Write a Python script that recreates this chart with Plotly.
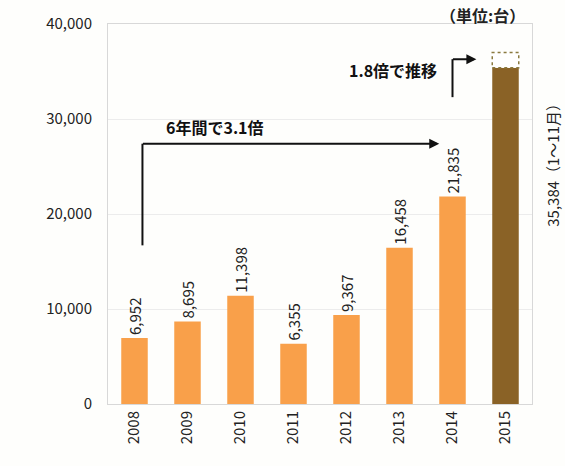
import plotly.graph_objects as go

years = ["2008", "2009", "2010", "2011", "2012", "2013", "2014", "2015"]
values = [6952, 8695, 11398, 6355, 9367, 16458, 21835, 35384]
full_year_estimate_2015 = 37000
bar_colors = ["#f9a04a"] * 7 + ["#8a6226"]
labels = [f"{v:,}" for v in values[:7]] + [""]
label_2015 = f"{values[7]:,}（1〜11月）"

FONT = "Noto Sans CJK JP"
xs = list(range(len(years)))

fig = go.Figure()
fig.add_trace(go.Bar(
    x=xs, y=values, marker=dict(color=bar_colors, line=dict(width=0)),
    width=0.5, text=labels, textposition="outside", textangle=-90, constraintext="none",
    textfont=dict(family=FONT, size=15, color="#222"), cliponaxis=False,
))

# dashed box for rest-of-year estimate on 2015
fig.add_shape(type="rect", x0=7 - 0.25, x1=7 + 0.25, y0=values[7], y1=full_year_estimate_2015,
              line=dict(color="#8a7a40", width=1.5, dash="dot"), fillcolor="white", layer="above")

# arrow 1: 6年間で3.1倍
fig.add_shape(type="line", x0=0.15, x1=0.15, y0=16700, y1=27400, line=dict(color="#111", width=2))
fig.add_annotation(x=5.75, y=27400, ax=0.13, ay=27400, axref="x", ayref="y", xref="x", yref="y",
                   text="", showarrow=True, arrowhead=2, arrowsize=1, arrowwidth=2, arrowcolor="#111")
fig.add_annotation(x=0.55, y=29200, xref="x", yref="y", text="<b>6年間で3.1倍</b>", showarrow=False,
                   xanchor="left", font=dict(family=FONT, size=16, color="#111"))

# arrow 2: 1.8倍で推移
fig.add_shape(type="line", x0=6.0, x1=6.0, y0=32300, y1=36300, line=dict(color="#111", width=2))
fig.add_annotation(x=6.45, y=36300, ax=5.98, ay=36300, axref="x", ayref="y", xref="x", yref="y",
                   text="", showarrow=True, arrowhead=2, arrowsize=1, arrowwidth=2, arrowcolor="#111")
fig.add_annotation(x=5.75, y=35200, xref="x", yref="y", text="<b>1.8倍で推移</b>", showarrow=False,
                   xanchor="right", font=dict(family=FONT, size=16, color="#111"))

# 2015 label outside right
fig.add_annotation(x=1.0, y=25500, xref="paper", yref="y", xshift=21, xanchor="center", yanchor="middle",
                   text=label_2015, textangle=-90,
                   showarrow=False, font=dict(family=FONT, size=15, color="#222"))

# unit
fig.add_annotation(x=1.0, y=1.0, xref="paper", yref="paper", yshift=22, xshift=-6,
                   text="<b>（単位:台）</b>", showarrow=False, xanchor="right", yanchor="top",
                   borderpad=0, font=dict(family=FONT, size=16, color="#222"))

fig.update_layout(
    width=565, height=466,
    margin=dict(l=108, r=33, t=22, b=62),
    paper_bgcolor="#fefefc", plot_bgcolor="#fefefc",
    showlegend=False, bargap=0.5,
    font=dict(family=FONT, size=15, color="#222"),
)
fig.update_xaxes(tickmode="array", tickvals=xs, ticktext=years, tickangle=-90,
                 range=[-0.5, 7.5], showline=True, linecolor="#d8d8d8", mirror=True,
                 showgrid=False, ticks="", tickfont=dict(family=FONT, size=15, color="#222"))
fig.update_yaxes(range=[0, 40000], tickvals=[0, 10000, 20000, 30000, 40000], tickformat=",",
                 showgrid=True, gridcolor="#ececec", showline=True, linecolor="#d8d8d8", mirror=True,
                 zeroline=False, ticks="", ticklen=0, tickfont=dict(family=FONT, size=15, color="#222"))
fig.update_yaxes(ticklabelstandoff=12)

fig.write_html("out.html")
